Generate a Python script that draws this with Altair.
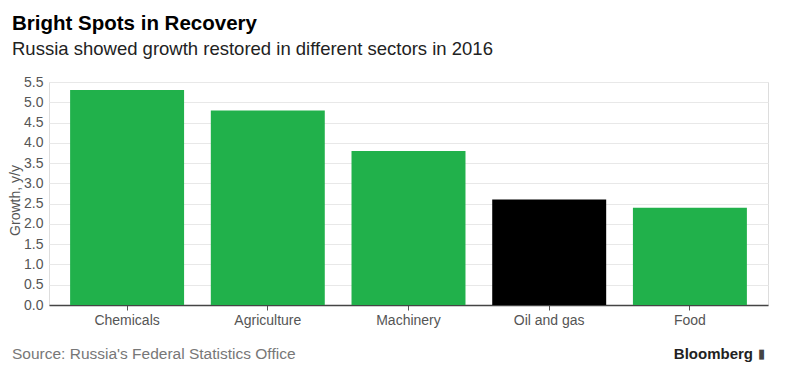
import altair as alt
import pandas as pd

sectors = ["Chemicals", "Agriculture", "Machinery", "Oil and gas", "Food"]
growth = [5.3, 4.8, 3.8, 2.6, 2.4]
highlight = ["no", "no", "no", "yes", "no"]
y_ticks = [0.0, 0.5, 1.0, 1.5, 2.0, 2.5, 3.0, 3.5, 4.0, 4.5, 5.0, 5.5]

title_text = "Bright Spots in Recovery"
subtitle_text = "Russia showed growth restored in different sectors in 2016"
source_text = "Source: Russia's Federal Statistics Office"
brand_text = "Bloomberg"

df = pd.DataFrame({"sector": sectors, "growth": growth, "hl": highlight})

W, H = 719, 223
FONT = "Liberation Sans"

base = alt.Chart(df)

bars = base.mark_bar().encode(
    x=alt.X("sector:N", sort=sectors,
            scale=alt.Scale(paddingInner=0.19, paddingOuter=0.15),
            axis=alt.Axis(title=None, labelFont=FONT, labelFontSize=14, labelColor="#555555",
                          labelPadding=3, tickColor="#555555", tickSize=5, domainColor="#444444",
                          domainWidth=1.5, labelAngle=0)),
    y=alt.Y("growth:Q", scale=alt.Scale(domain=[0, 5.5], nice=False),
            axis=alt.Axis(title="Growth, y/y", values=y_ticks, format=".1f",
                          titleFont=FONT, titleFontSize=14, titleFontWeight="normal",
                          titleColor="#555555", titleX=-27, titleY=118,
                          labelFont=FONT, labelFontSize=14, labelColor="#555555", labelPadding=6,
                          domain=False, ticks=False, gridColor="#e8e8e8")),
    color=alt.Color("hl:N", scale=alt.Scale(domain=["no", "yes"], range=["#21b14b", "#000000"]),
                    legend=None),
)

source = alt.Chart(pd.DataFrame({"t": [source_text]})).mark_text(
    align="left", baseline="middle", font=FONT, fontSize=15.5, color="#777777"
).encode(text="t:N", x=alt.value(-37), y=alt.value(H + 49))

brand = alt.Chart(pd.DataFrame({"t": [brand_text]})).mark_text(
    align="right", baseline="middle", font=FONT, fontSize=15, fontWeight="bold", color="#222222"
).encode(text="t:N", x=alt.value(W - 15), y=alt.value(H + 49))

logo = alt.Chart(pd.DataFrame({"t": ["▮"]})).mark_text(
    align="left", baseline="middle", font=FONT, fontSize=13, color="#444444"
).encode(text="t:N", x=alt.value(W - 10), y=alt.value(H + 49))

chart = alt.layer(bars, source, brand, logo).properties(
    width=W, height=H,
    autosize=alt.AutoSizeParams(type="none"),
    padding={"left": 41, "top": 74, "right": 12, "bottom": 66},
    title=alt.TitleParams(
        text=title_text, subtitle=subtitle_text, anchor="start", frame="group",
        font=FONT, fontSize=20.5, fontWeight="bold", color="#000000",
        subtitleFont=FONT, subtitleFontSize=18.5, subtitleColor="#222222", subtitlePadding=5,
        dx=-37, offset=17,
    ),
).configure_view(stroke=None).configure(background="white")

chart.save("out.html", embed_options={"renderer": "svg", "actions": False})
